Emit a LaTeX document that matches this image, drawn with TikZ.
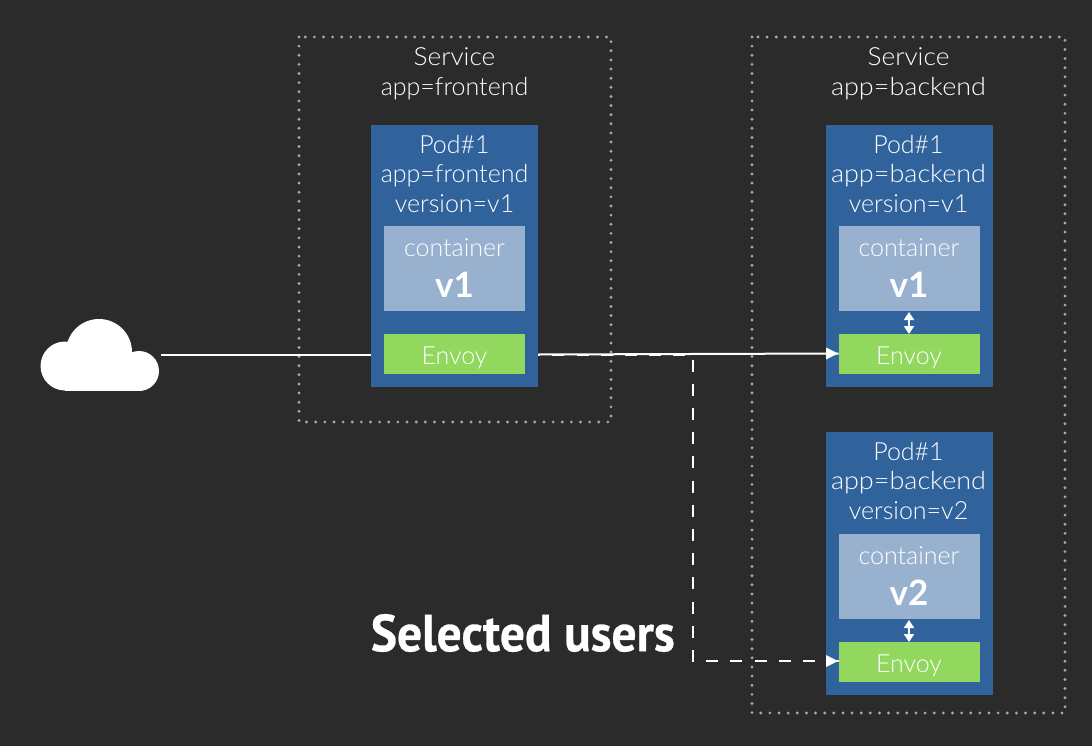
\documentclass[tikz,border=0pt]{standalone}
\usepackage{fontspec}
\setmainfont{Lato Light}
\newfontfamily\boldfam{Lato Bold}
\newfontfamily\selfam[FakeBold=0.6]{PT Sans Bold}
\usetikzlibrary{arrows.meta}
\definecolor{bgc}{HTML}{2B2B2B}
\definecolor{podc}{HTML}{30639C}
\definecolor{contc}{HTML}{98B1CE}
\definecolor{envc}{HTML}{92D85F}
\definecolor{dotc}{HTML}{A8A8A8}
\tikzset{
 x=1pt,y=-1pt,
 svc/.style={draw=dotc,line width=3.2pt,line cap=round,dash pattern=on 0pt off 9.13pt},
 box/.style={anchor=north west,inner sep=0,outer sep=0,text=white,align=center},
 podbox/.style={box,fill=podc,minimum width=167pt},
 contbox/.style={box,fill=contc,minimum width=141pt,minimum height=85pt},
 envbox/.style={box,fill=envc,minimum width=141pt,minimum height=40pt,font=\fontsize{25}{27}\selectfont},
 txt/.style={text=white,align=center,inner sep=0,font=\fontsize{25}{29.7}\selectfont},
 wire/.style={draw=white,line width=2pt},
 dwire/.style={wire,dash pattern=on 12.1pt off 12.1pt,dash phase=9.9pt},
 dbl/.style={draw=white,line width=1.8pt,{Triangle[length=8pt,width=10pt,fill=white]}-{Triangle[length=8pt,width=10pt,fill=white]}},
}
\newcommand{\envtext}[1]{\raisebox{-10pt}[0pt][0pt]{#1}}
\newcommand{\wider}[1]{\scalebox{1.08}[1]{#1}}
\begin{document}
\begin{tikzpicture}
\useasboundingbox (0,0) rectangle (1092,746);
\fill[bgc] (0,0) rectangle (1092,746);
% service boxes
\draw[svc] (299,37) rectangle (611,422);
\draw[svc] (752,37) rectangle (1065,713);
\node[txt] (s1) at (454.5,74) {\scalebox{1.05}[1]{Service}\\app=frontend};
\node[txt] (s2) at (908.5,74) {\scalebox{1.05}[1]{Service}\\\wider{app=backend}};
% pods
\node[podbox,minimum height=262pt] (p1) at (371,125) {};
\node[podbox,minimum height=262pt] (p2) at (826,125) {};
\node[podbox,minimum height=263pt] (p3) at (826,432) {};
\node[txt] (p1t) at (454.5,174) {Pod\#1\\app=frontend\\version=v1};
\node[txt] (p2t) at (908.5,174) {Pod\#1\\\wider{app=backend}\\version=v1};
\node[txt] (p3t) at (908.5,481) {Pod\#1\\\wider{app=backend}\\version=v2};
% containers
\node[contbox] (c1) at (384,226) {};
\node[contbox] (c2) at (838.5,226) {};
\node[contbox] (c3) at (838.5,534) {};
\foreach \n/\x/\y/\v in {c1/454.5/226/v1,c2/909/226/v1,c3/909/534/v2}{
 \node[txt] (\n l) at (\x,\y+22) {container};
 \node[text=white,inner sep=0,font=\boldfam\fontsize{35}{37}\selectfont] (\n v) at (\x,\y+59) {\v};
}
% envoys
\node[envbox] (e1) at (384,334) {\envtext{Envoy}};
\node[envbox] (e2) at (838.5,334) {\envtext{Envoy}};
\node[envbox] (e3) at (838.5,642) {\envtext{Envoy}};
% cloud
\node[inner sep=0,minimum width=119pt,minimum height=72pt] (cloud) at (99.5,355) {};
\fill[white] (65,366) circle (24.5);
\fill[white] (99,352) circle (33);
\fill[white] (139,371) circle (20);
\fill[white] (65,360) rectangle (139,391);
% connectors
\coordinate (turn) at (693,355);
\coordinate (turn2) at (693,661);
\draw[wire] (161,354.5) -- (p1.west |- 0,354.5);
\draw[dwire] (p1.east |- 0,355) -- (turn) -- (turn2) -- (e3.west |- turn2);
\draw[wire] (p1.east |- 0,354.5) -- (690,354) -- (e2.west |- 0,353.5);
\fill[white] (838,353.5) -- (826,347.5) -- (826,359.5) -- cycle;
\fill[white] (838,661) -- (826,655) -- (826,667) -- cycle;
\draw[dbl] (c2.south) ++(0,1) -- (e2.north);
\draw[dbl] (c3.south) ++(0,1) -- (e3.north);
% label
\node[anchor=east,inner sep=0,text=white,font=\selfam\fontsize{52}{54}\selectfont] (sel) at (675,633) {\scalebox{0.95}[1]{Selected users}};
\end{tikzpicture}
\end{document}
